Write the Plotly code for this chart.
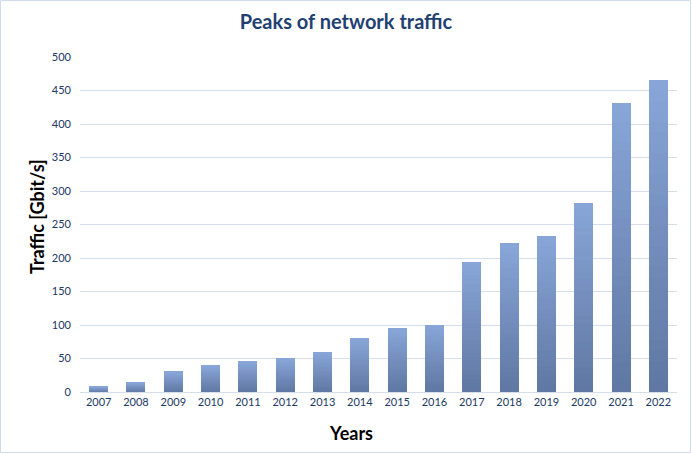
import plotly.graph_objects as go

years = ["2007", "2008", "2009", "2010", "2011", "2012", "2013", "2014",
         "2015", "2016", "2017", "2018", "2019", "2020", "2021", "2022"]
traffic = [8, 14, 30, 39, 45, 50, 60, 80, 95, 100, 194, 222, 233, 282, 431, 465]
y_ticks = [0, 50, 100, 150, 200, 250, 300, 350, 400, 450, 500]

W, H = 692, 454
ML, MR, MT, MB = 80, 15, 57, 62

top_rgb = (0x88, 0xA6, 0xD8)
bot_rgb = (0x5F, 0x77, 0xA2)
N = 30

fig = go.Figure()
for i in range(N):
    t = (i + 0.5) / N
    c = tuple(round(b + (a - b) * t) for a, b in zip(top_rgb, bot_rgb))
    fig.add_trace(go.Bar(
        x=years, y=[v / N for v in traffic],
        marker=dict(color="rgb(%d,%d,%d)" % c, line=dict(width=0)),
        showlegend=False, hoverinfo="skip",
    ))

pw = W - ML - MR
ph = H - MT - MB
fig.add_shape(type="rect", xref="paper", yref="paper",
              x0=-(ML - 0.5) / pw, x1=1 + (MR - 1.5) / pw,
              y0=-(MB - 1.5) / ph, y1=1 + (MT - 0.5) / ph,
              line=dict(color="#d0dcec", width=1), layer="below")

fig.add_annotation(text="<b>Years</b>", xref="paper", yref="paper",
                   x=(351 - ML) / pw, y=-(433 - MT - ph) / ph,
                   xanchor="center", yanchor="middle", showarrow=False,
                   font=dict(size=18, color="black"))

fig.add_annotation(text="<b>Traffic [Gbit/s]</b>", xref="paper", yref="paper",
                   x=-(ML - 37) / pw, y=1 - (217 - MT) / ph, textangle=-90,
                   xanchor="center", yanchor="middle", showarrow=False,
                   font=dict(size=18, color="black"))

fig.update_layout(
    width=W, height=H,
    margin=dict(l=ML, r=MR, t=MT, b=MB),
    barmode="stack", bargap=0.49,
    paper_bgcolor="white", plot_bgcolor="white",
    font=dict(family="Lato, Carlito, sans-serif", color="#203864", size=11),
    title=dict(text="<b>Peaks of network traffic</b>", x=0.5, xanchor="center",
               y=1 - 22 / H, yanchor="middle",
               font=dict(size=20, color="#1f4172", family="Lato, sans-serif")),
    xaxis=dict(type="category", showgrid=False, showline=True,
               linecolor="#d5deec", linewidth=1, ticks="",
               tickfont=dict(size=11, color="#203864")),
    yaxis=dict(range=[0, 500], tickvals=y_ticks, showgrid=True,
               gridcolor="#d5deec", gridwidth=1, zeroline=False,
               ticks="", ticklabelstandoff=8,
               tickfont=dict(size=11, color="#203864")),
)

fig.write_html("out.html")
